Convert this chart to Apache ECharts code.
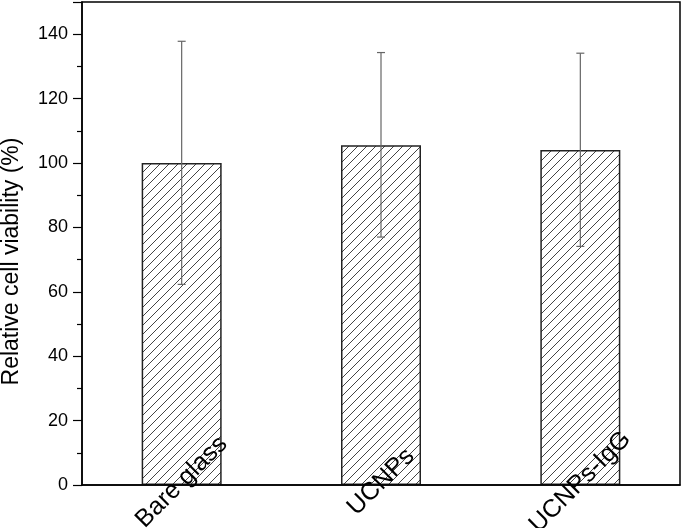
<!DOCTYPE html>
<html>
<head>
<meta charset="utf-8">
<script src="https://cdn.jsdelivr.net/npm/echarts@6/dist/echarts.min.js"></script>
<style>
  html, body { margin: 0; padding: 0; background: #fff; }
  #chart { width: 685px; height: 528px; }
</style>
</head>
<body>
<div id="chart"></div>
<script>
// categories and values
var categories = ['Bare glass', 'UCNPs', 'UCNPs-IgG']
var viability = [100, 105.5, 104]
var errLow = [62.3, 77, 74.1]
var errHigh = [137.8, 134.3, 134.1]
var yTicks = [0, 20, 40, 60, 80, 100, 120, 140]

// hatch pattern "/" for the bars
function hatch() {
  var s = 9
  var c = document.createElement('canvas')
  c.width = s
  c.height = s
  var ctx = c.getContext('2d')
  ctx.fillStyle = '#fff'
  ctx.fillRect(0, 0, s, s)
  ctx.strokeStyle = '#444'
  ctx.lineWidth = 1
  ctx.beginPath()
  ctx.moveTo(-1, s + 1)
  ctx.lineTo(s + 1, -1)
  ctx.moveTo(-2, 1)
  ctx.lineTo(1, -2)
  ctx.moveTo(s - 1, s + 2)
  ctx.lineTo(s + 2, s - 1)
  ctx.stroke()
  return c
}

var errData = categories.map(function (c, i) {
  return [i, errLow[i], errHigh[i]]
})

var chart = echarts.init(document.getElementById('chart'))
chart.setOption({
  animation: false,
  grid: {
    left: 82,
    right: 5,
    top: 2,
    bottom: 43,
    outerBoundsMode: 'none',
    containLabel: false,
    show: true,
    borderColor: '#000',
    borderWidth: 1.5
  },
  xAxis: {
    type: 'category',
    data: categories,
    z: 5,
    axisLine: { lineStyle: { color: '#000', width: 1.5 } },
    axisTick: { show: false },
    axisLabel: {
      rotate: 45,
      align: 'center',
      verticalAlign: 'middle',
      margin: -3,
      fontFamily: 'Liberation Sans',
      fontSize: 25,
      color: '#000'
    }
  },
  yAxis: {
    type: 'value',
    min: 0,
    max: 150,
    interval: 20,
    name: 'Relative cell viability (%)',
    nameLocation: 'middle',
    nameGap: 59,
    nameTextStyle: {
      fontFamily: 'Liberation Sans',
      fontSize: 23,
      color: '#000',
      padding: [0, 36, 0, 0]
    },
    axisLine: { show: true, lineStyle: { color: '#000', width: 1.5 } },
    axisTick: { show: true, inside: false, length: 9, lineStyle: { color: '#000', width: 1.2 } },
    minorTick: { show: true, splitNumber: 2, length: 5, lineStyle: { color: '#000', width: 1.2 } },
    splitLine: { show: false },
    axisLabel: {
      margin: 14,
      fontFamily: 'Liberation Sans',
      fontSize: 18,
      color: '#000',
      formatter: function (v) {
        return yTicks.indexOf(v) >= 0 ? String(v) : ''
      }
    }
  },
  series: [
    {
      type: 'bar',
      data: viability,
      barWidth: 80,
      itemStyle: {
        color: { image: hatch(), repeat: 'repeat' },
        borderColor: '#222',
        borderWidth: 1.5
      }
    },
    {
      type: 'custom',
      data: errData,
      z: 4,
      renderItem: function (params, api) {
        var x = api.value(0)
        var lo = api.coord([x, api.value(1)])
        var hi = api.coord([x, api.value(2)])
        var cap = 4
        var st = { stroke: '#666', lineWidth: 1.2 }
        return {
          type: 'group',
          children: [
            { type: 'line', shape: { x1: lo[0], y1: lo[1], x2: hi[0], y2: hi[1] }, style: st },
            { type: 'line', shape: { x1: hi[0] - cap, y1: hi[1], x2: hi[0] + cap, y2: hi[1] }, style: st },
            { type: 'line', shape: { x1: lo[0] - cap, y1: lo[1], x2: lo[0] + cap, y2: lo[1] }, style: st }
          ]
        }
      }
    }
  ]
})
</script>
</body>
</html>
